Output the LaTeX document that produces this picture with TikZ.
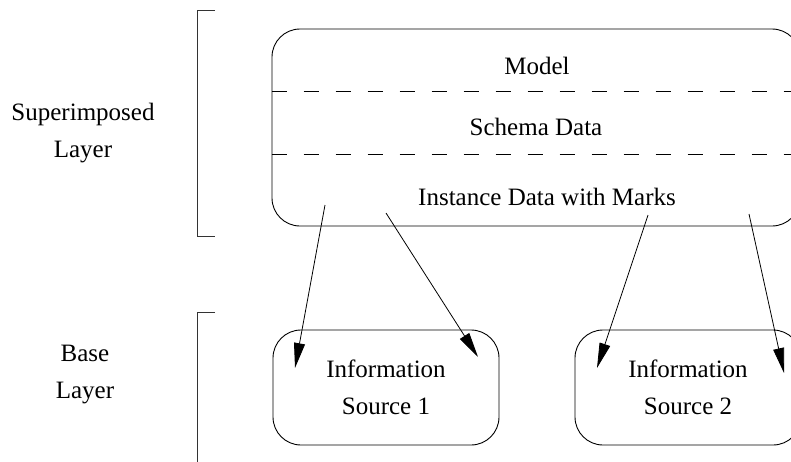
\documentclass[tikz,border=0pt]{standalone}
\usepackage{fontspec}
\setmainfont{Liberation Serif}
\usetikzlibrary{arrows.meta}
\begin{document}
\begin{tikzpicture}[x=1pt,y=-1pt,
  every node/.style={font=\fontsize{25pt}{37pt}\selectfont, inner sep=0pt},
  box/.style={draw, line width=0.9pt, rounded corners=28pt},
  sep/.style={line width=0.9pt, dash pattern=on 15pt off 17pt},
  bracket/.style={line width=0.9pt, draw=black!80},
  link/.style={line width=0.8pt, -{Triangle[length=25pt,width=11pt]}},
  lbl/.style={align=center}]
\useasboundingbox (0,0) rectangle (791,461);
\clip (0,0) rectangle (791,461);

% layer brackets
\draw[bracket] (215,10) -- (197,10) -- (197,236) -- (215,236);
\draw[bracket] (215,312) -- (197,312) -- (197,470);
\node[lbl] (suplabel) at (83,133) {Superimposed\\Layer};
\node[lbl] (baselabel) at (85,375) {Base\\Layer};

% superimposed layer box with its three sections
\node[box, minimum width=528pt, minimum height=197pt] (super) at (536,127.5) {};
\coordinate (d1) at (0,91);
\coordinate (d2) at (0,154);
\draw[sep] (super.west |- d1) -- (super.east |- d1);
\draw[sep] (super.west |- d2) -- (super.east |- d2);
\node (model) at (537,66) {Model};
\node (schema) at (536,127) {Schema Data};
\node (inst) at (547,197) {Instance Data with Marks};

% information sources
\node[box, minimum width=226pt, minimum height=115pt, lbl] (src1) at (386,387.5) {Information\\Source 1};
\node[box, minimum width=226pt, minimum height=115pt, lbl] (src2) at (688,387.5) {Information\\Source 2};

% mapping links
\coordinate (s1) at (325,205);
\coordinate (s2) at (386,213);
\coordinate (s3) at (648,215);
\coordinate (s4) at (749,214);
\coordinate (t1) at (295,368);
\coordinate (t2) at (478,357);
\coordinate (t3) at (597,368);
\coordinate (t4) at (784,373);
\draw[link] (s1) -- (t1);
\draw[link] (s2) -- (t2);
\draw[link] (s3) -- (t3);
\draw[link] (s4) -- (t4);
\end{tikzpicture}
\end{document}
